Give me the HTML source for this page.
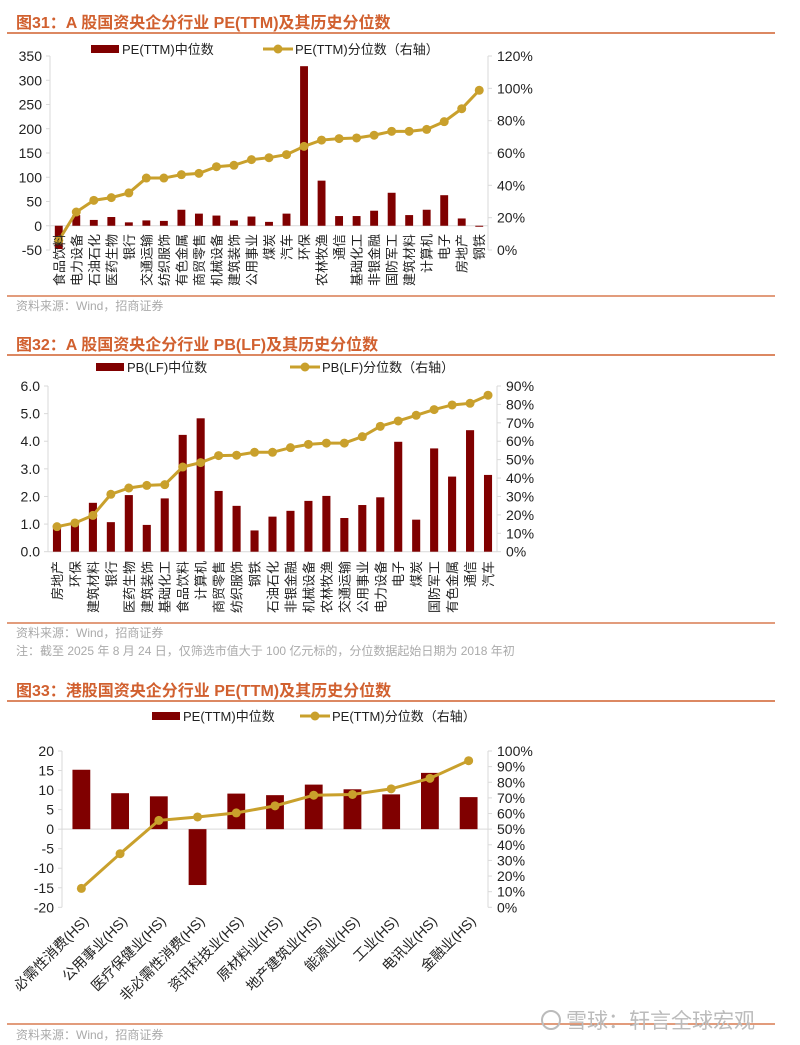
<!DOCTYPE html>
<html><head><meta charset="utf-8">
<style>
html,body{margin:0;padding:0;background:#fff;}
svg{display:block;font-family:"Liberation Sans","Noto Sans CJK SC",sans-serif;}
</style></head>
<body>
<svg id="s" width="800" height="1045" viewBox="0 0 800 1045" xmlns="http://www.w3.org/2000/svg">
<g>
<text x="16" y="28" font-size="16" font-weight="bold" fill="#d1602f">图31：A 股国资央企分行业 PE(TTM)及其历史分位数</text>
<line x1="7" y1="33" x2="775" y2="33" stroke="#d1602f" stroke-width="1.5"/>
</g>
<g>
<text x="16" y="350" font-size="16" font-weight="bold" fill="#d1602f">图32：A 股国资央企分行业 PB(LF)及其历史分位数</text>
<line x1="7" y1="355" x2="775" y2="355" stroke="#d1602f" stroke-width="1.5"/>
</g>
<g>
<text x="16" y="696" font-size="16" font-weight="bold" fill="#d1602f">图33：港股国资央企分行业 PE(TTM)及其历史分位数</text>
<line x1="7" y1="701" x2="775" y2="701" stroke="#d1602f" stroke-width="1.5"/>
</g>
<line x1="7" y1="296" x2="775" y2="296" stroke="#d1602f" stroke-width="1.2"/>
<text x="16" y="310" font-size="12" fill="#aaa">资料来源：Wind，招商证券</text>
<line x1="7" y1="623" x2="775" y2="623" stroke="#d1602f" stroke-width="1.2"/>
<text x="16" y="637" font-size="12" fill="#aaa">资料来源：Wind，招商证券</text>
<text x="16" y="655" font-size="12" fill="#aaa">注：截至 2025 年 8 月 24 日，仅筛选市值大于 100 亿元标的，分位数据起始日期为 2018 年初</text>
<line x1="7" y1="1024" x2="775" y2="1024" stroke="#d1602f" stroke-width="1.2"/>
<text x="16" y="1039" font-size="12" fill="#aaa">资料来源：Wind，招商证券</text>
<g>
<circle cx="551" cy="1020" r="9" fill="none" stroke="#bbb" stroke-width="2"/>
<text x="566" y="1028" font-size="21" fill="#bbb">雪球：轩言全球宏观</text>
</g>
</svg>
<script>
// Chart 31 data
const c1Cats = ["食品饮料","电力设备","石油石化","医药生物","银行","交通运输","纺织服饰","有色金属","商贸零售","机械设备","建筑装饰","公用事业","煤炭","汽车","环保","农林牧渔","通信","基础化工","非银金融","国防军工","建筑材料","计算机","电子","房地产","钢铁"];
const c1Bars = [-48,22,12,18,7,11,10,33,25,21,11,19,8,25,329,93,20,20,31,68,22,33,63,15,-2];
const c1Pct = [6,23.5,30.7,32.4,35.3,44.5,44.5,46.6,47.4,51.5,52.4,55.9,57.1,59,64.1,68,68.9,69.3,71,73.4,73.4,74.6,79.4,87.4,98.8];
const c1LeftTicks = [-50,0,50,100,150,200,250,300,350];
const c1RightTicks = [0,20,40,60,80,100,120];
// Chart 32 data
const c2Cats = ["房地产","环保","建筑材料","银行","医药生物","建筑装饰","基础化工","食品饮料","计算机","商贸零售","纺织服饰","钢铁","石油石化","非银金融","机械设备","农林牧渔","交通运输","公用事业","电力设备","电子","煤炭","国防军工","有色金属","通信","汽车"];
const c2Bars = [0.95,1.0,1.77,1.07,2.05,0.97,1.93,4.23,4.83,2.2,1.66,0.77,1.27,1.48,1.84,2.02,1.22,1.69,1.97,3.98,1.16,3.74,2.72,4.4,2.78];
const c2Pct = [13.6,15.6,19.7,31.2,34.6,36,36.4,46,48.4,52.2,52.4,54,54,56.5,58.3,59,59,62.5,68.1,71,74.1,77.2,79.7,80.6,85];
const c2LeftTicks = [0,1,2,3,4,5,6];
const c2RightTicks = [0,10,20,30,40,50,60,70,80,90];
// Chart 33 data
const c3Cats = ["必需性消费(HS)","公用事业(HS)","医疗保健业(HS)","非必需性消费(HS)","资讯科技业(HS)","原材料业(HS)","地产建筑业(HS)","能源业(HS)","工业(HS)","电讯业(HS)","金融业(HS)"];
const c3Bars = [15.2,9.2,8.4,-14.3,9.1,8.7,11.4,10.2,8.9,14.4,8.2];
const c3Pct = [12.1,34.3,55.6,57.8,60.4,64.9,71.7,72.2,75.8,82.5,93.8];
const c3LeftTicks = [-20,-15,-10,-5,0,5,10,15,20];
const c3RightTicks = [0,10,20,30,40,50,60,70,80,90,100];

const NS="http://www.w3.org/2000/svg";
const svg=document.getElementById('s');
function mk(tag,attrs,parent){const e=document.createElementNS(NS,tag);for(const k in attrs)e.setAttribute(k,attrs[k]);(parent||svg).appendChild(e);return e;}
const BAR="#800000", LINE="#c9a02c", AX="#d9d9d9";

function chart(cfg,cats,bars,pct,lt,rt){
  const g=mk('g',{});
  
  
  const yL=v=>cfg.y0+(v-cfg.lmin)/(cfg.lmax-cfg.lmin)*(cfg.y1-cfg.y0);
  const yR=v=>cfg.y0+(v-cfg.rmin)/(cfg.rmax-cfg.rmin)*(cfg.y1-cfg.y0);
  const step=(cfg.x1-cfg.x0)/cats.length;
  const xC=i=>cfg.x0+step*(i+0.5);
  mk('line',{x1:cfg.x0,y1:cfg.y0,x2:cfg.x0,y2:cfg.y1,stroke:AX},g);
  mk('line',{x1:cfg.x1,y1:cfg.y0,x2:cfg.x1,y2:cfg.y1,stroke:AX},g);
  lt.forEach(v=>{
    mk('line',{x1:cfg.x0-4,y1:yL(v),x2:cfg.x0,y2:yL(v),stroke:AX},g);
    const t=mk('text',{x:cfg.x0-8,y:yL(v)+5,'font-size':14,'text-anchor':'end',fill:'#222'},g);
    
    
    t.textContent=cfg.lfmt(v);
  });
  rt.forEach(v=>{
    mk('line',{x1:cfg.x1,y1:yR(v),x2:cfg.x1+4,y2:yR(v),stroke:AX},g);
    const t=mk('text',{x:cfg.x1+9,y:yR(v)+5,'font-size':14,fill:'#222'},g);
    
    
    t.textContent=v+'%';
  });
  mk('line',{x1:cfg.x0,y1:yL(0),x2:cfg.x1,y2:yL(0),stroke:AX},g);
  const bw=step*cfg.bw;
  bars.forEach((v,i)=>{
    const a=yL(0),b=yL(v);
    const r=mk('rect',{x:xC(i)-bw/2,y:Math.min(a,b),width:bw,height:Math.max(Math.abs(a-b),1),fill:BAR},g);
    
    
  });
  const pl=mk('polyline',{points:pct.map((v,i)=>xC(i)+','+yR(v)).join(' '),fill:'none',stroke:LINE,'stroke-width':3},g);
  
  
  pct.forEach((v,i)=>{
    const c=mk('circle',{cx:xC(i),cy:yR(v),r:4.5,fill:LINE},g);
    
    
  });
  cats.forEach((c,i)=>{
    let t;
    if(cfg.rot){
      t=mk('text',{x:xC(i)+8,y:cfg.ly,'font-size':14,'text-anchor':'end',fill:'#222',transform:`rotate(-45 ${xC(i)+8} ${cfg.ly})`},g);
    }else{
      const x=xC(i)+5;
      t=mk('text',{x:x,y:cfg.ly,'font-size':13,'text-anchor':'end',fill:'#222',transform:`rotate(-90 ${x} ${cfg.ly})`},g);
    }
    
    
    t.textContent=c;
  });
  // legend
  const L=cfg.leg;
  const r=mk('rect',{x:L.bx,y:L.y-4,width:L.bw,height:8,fill:BAR},g);
  
  
  const t1=mk('text',{x:L.bx+L.bw+3,y:L.y+5,'font-size':13,fill:'#222'},g);
  
  
  t1.textContent=cfg.l1;
  mk('line',{x1:L.lx,y1:L.y,x2:L.lx+30,y2:L.y,stroke:LINE,'stroke-width':3},g);
  mk('circle',{cx:L.lx+15,cy:L.y,r:4.5,fill:LINE},g);
  const t2=mk('text',{x:L.lx+32,y:L.y+5,'font-size':13,fill:'#222'},g);
  
  
  t2.textContent=cfg.l2;
}

chart({name:'chart31-pe-a-share',x0:50,x1:488,y0:250,y1:56,lmin:-50,lmax:350,rmin:0,rmax:120,bw:0.45,ly:234,lfmt:v=>v,
  leg:{bx:91,bw:28,lx:263,y:49},l1:'PE(TTM)中位数',l2:'PE(TTM)分位数（右轴）'},c1Cats,c1Bars,c1Pct,c1LeftTicks,c1RightTicks);
chart({name:'chart32-pb-a-share',x0:48,x1:497,y0:551.7,y1:386,lmin:0,lmax:6,rmin:0,rmax:90,bw:0.45,ly:561,lfmt:v=>v.toFixed(1),
  leg:{bx:96,bw:28,lx:290,y:367},l1:'PB(LF)中位数',l2:'PB(LF)分位数（右轴）'},c2Cats,c2Bars,c2Pct,c2LeftTicks,c2RightTicks);
chart({name:'chart33-pe-hk',x0:62,x1:488,y0:907.3,y1:751,lmin:-20,lmax:20,rmin:0,rmax:100,bw:0.46,ly:922,rot:true,lfmt:v=>v,
  leg:{bx:152,bw:28,lx:300,y:716},l1:'PE(TTM)中位数',l2:'PE(TTM)分位数（右轴）'},c3Cats,c3Bars,c3Pct,c3LeftTicks,c3RightTicks);
</script>
</body></html>
